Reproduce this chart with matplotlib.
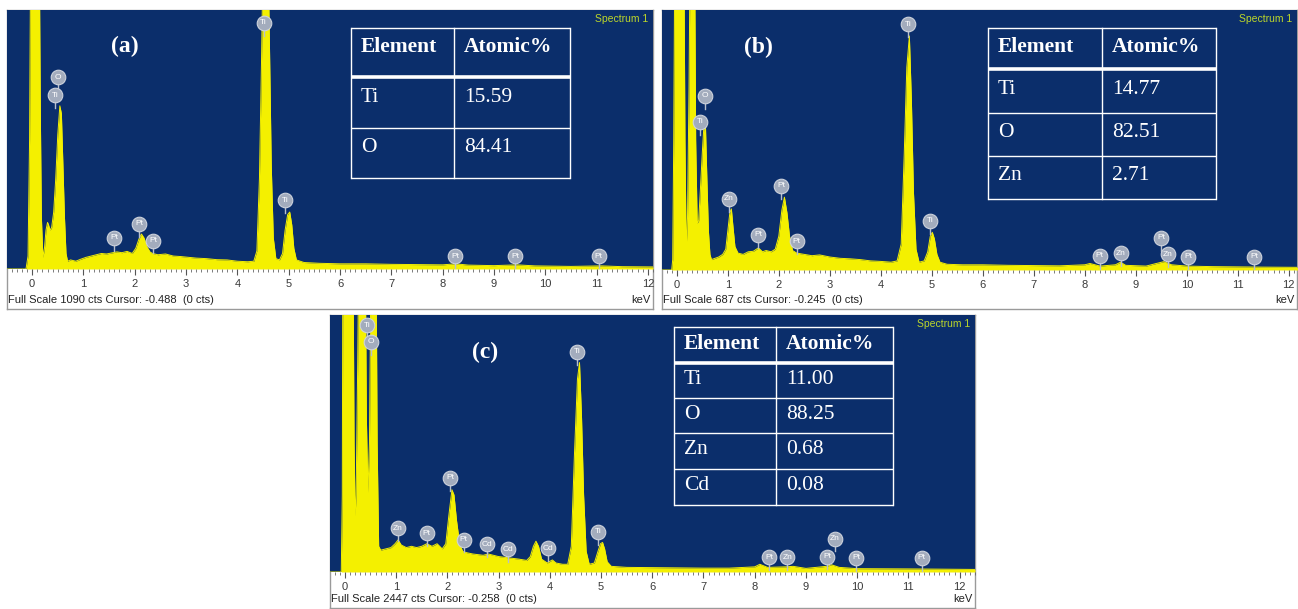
import numpy as np
import matplotlib.pyplot as plt
from matplotlib.lines import Line2D
from matplotlib.ticker import MultipleLocator

W, H = 1298, 609
BLUE = '#0b2e6b'
YELLOW = '#f4f000'
LBL_FACE = '#a3acbd'
SANS = 'Liberation Sans'
SERIF = 'Liberation Serif'

# ---- spectrum (a): energy (keV) and height as fraction of full scale ----
a_kev = [-0.49, -0.12, -0.08, -0.05, -0.03, 0.14, 0.16, 0.18, 0.21, 0.24, 0.27, 0.30,
         0.32, 0.35, 0.38, 0.42, 0.46, 0.50, 0.54, 0.57, 0.60, 0.63, 0.66, 0.69, 0.75,
         0.85, 0.95, 1.05, 1.15, 1.25, 1.35, 1.45, 1.55, 1.65, 1.75, 1.85, 1.95, 2.02,
         2.08, 2.13, 2.18, 2.24, 2.30, 2.35, 2.45, 2.60, 2.75, 2.90, 3.05, 3.20, 3.40,
         3.60, 3.80, 4.00, 4.20, 4.32, 4.38, 4.43, 4.47, 4.50, 4.60, 4.63, 4.66, 4.70,
         4.75, 4.82, 4.88, 4.93, 4.98, 5.02, 5.06, 5.10, 5.15, 5.30, 5.60, 6.00, 6.50,
         7.00, 7.50, 8.00, 8.25, 8.50, 9.00, 9.45, 9.80, 10.50, 11.10, 11.50, 12.10]
a_rel = [0, 0, 0.05, 0.5, 1.2, 1.2, 0.6, 0.2, 0.045, 0.08, 0.15, 0.18,
         0.17, 0.15, 0.16, 0.22, 0.35, 0.52, 0.63, 0.60, 0.40, 0.20, 0.06, 0.03, 0.035,
         0.03, 0.038, 0.045, 0.05, 0.055, 0.06, 0.058, 0.062, 0.066, 0.063, 0.068, 0.06, 0.08,
         0.115, 0.135, 0.12, 0.085, 0.065, 0.06, 0.055, 0.058, 0.05, 0.048, 0.045, 0.042, 0.04,
         0.036, 0.035, 0.03, 0.028, 0.03, 0.07, 0.35, 0.8, 1.2, 1.2, 0.8, 0.4, 0.12,
         0.04, 0.035, 0.06, 0.15, 0.21, 0.22, 0.17, 0.08, 0.035, 0.025, 0.022, 0.02, 0.02,
         0.018, 0.017, 0.016, 0.02, 0.015, 0.013, 0.016, 0.012, 0.01, 0.012, 0.009, 0.008]
a_lbl_el = ['O', 'Ti', 'Pt', 'Pt', 'Pt', 'Ti', 'Ti', 'Pt', 'Pt', 'Pt']
a_lbl_kev = [0.51, 0.45, 1.60, 2.09, 2.36, 4.51, 4.93, 8.25, 9.42, 11.04]
a_lbl_y = [0.74, 0.67, 0.12, 0.175, 0.11, 0.95, 0.265, 0.05, 0.05, 0.05]

# ---- spectrum (b) ----
b_kev = [-0.30, -0.10, -0.08, -0.06, -0.04, 0.14, 0.16, 0.18, 0.19, 0.21, 0.24, 0.26,
         0.35, 0.37, 0.40, 0.43, 0.46, 0.50, 0.53, 0.56, 0.59, 0.62, 0.65, 0.68, 0.75,
         0.82, 0.90, 0.96, 1.00, 1.04, 1.07, 1.10, 1.14, 1.20, 1.30, 1.40, 1.50, 1.60,
         1.68, 1.75, 1.85, 1.93, 2.00, 2.06, 2.11, 2.16, 2.21, 2.27, 2.35, 2.50, 2.65,
         2.80, 3.00, 3.20, 3.40, 3.60, 3.80, 4.00, 4.20, 4.32, 4.40, 4.46, 4.51, 4.56,
         4.60, 4.64, 4.69, 4.75, 4.85, 4.92, 4.97, 5.01, 5.05, 5.10, 5.16, 5.30, 5.60,
         6.00, 6.50, 7.00, 7.50, 8.00, 8.10, 8.30, 8.60, 8.70, 8.80, 9.20, 9.40, 9.55,
         9.70, 10.00, 10.50, 11.00, 11.50, 12.40]
b_rel = [0, 0, 0.04, 0.5, 1.2, 1.2, 0.5, 0.15, 0.11, 0.2, 0.7, 1.2,
         1.2, 0.5, 0.18, 0.19, 0.3, 0.45, 0.55, 0.57, 0.35, 0.15, 0.06, 0.04, 0.045,
         0.05, 0.06, 0.08, 0.15, 0.22, 0.235, 0.17, 0.09, 0.065, 0.06, 0.07, 0.072, 0.085,
         0.07, 0.075, 0.07, 0.08, 0.13, 0.23, 0.28, 0.22, 0.13, 0.075, 0.065, 0.06, 0.055,
         0.058, 0.05, 0.045, 0.043, 0.04, 0.035, 0.033, 0.03, 0.035, 0.1, 0.45, 0.78, 0.90,
         0.65, 0.3, 0.08, 0.03, 0.035, 0.07, 0.13, 0.145, 0.12, 0.06, 0.03, 0.022, 0.02,
         0.02, 0.018, 0.017, 0.016, 0.02, 0.025, 0.015, 0.02, 0.03, 0.018, 0.015, 0.025, 0.032,
         0.02, 0.015, 0.013, 0.012, 0.011, 0.01]
b_lbl_el = ['O', 'Ti', 'Zn', 'Pt', 'Pt', 'Pt', 'Ti', 'Ti', 'Pt', 'Zn', 'Pt', 'Zn', 'Pt', 'Pt']
b_lbl_kev = [0.55, 0.45, 1.02, 1.59, 2.05, 2.35, 4.54, 4.96, 8.29, 8.70, 9.50, 9.63, 10.03, 11.32]
b_lbl_y = [0.67, 0.57, 0.275, 0.135, 0.325, 0.11, 0.945, 0.19, 0.055, 0.065, 0.125, 0.06, 0.05, 0.05]

# ---- spectrum (c) ----
c_kev = [-0.29, -0.07, -0.05, -0.04, 0.16, 0.18, 0.20, 0.22, 0.25, 0.27, 0.40, 0.42,
         0.45, 0.48, 0.51, 0.61, 0.63, 0.66, 0.70, 0.80, 0.90, 0.98, 1.04, 1.10, 1.20,
         1.30, 1.40, 1.50, 1.60, 1.70, 1.80, 1.90, 1.97, 2.03, 2.09, 2.13, 2.18, 2.24,
         2.30, 2.38, 2.50, 2.70, 2.80, 3.00, 3.20, 3.40, 3.55, 3.62, 3.68, 3.73, 3.78,
         3.84, 3.95, 4.05, 4.12, 4.25, 4.35, 4.42, 4.48, 4.54, 4.58, 4.62, 4.66, 4.71,
         4.77, 4.87, 4.94, 4.99, 5.03, 5.07, 5.12, 5.20, 5.50, 6.00, 6.50, 7.00, 7.50,
         8.00, 8.10, 8.25, 8.60, 8.75, 9.00, 9.40, 9.50, 9.65, 10.00, 11.00, 12.30]
c_rel = [0, 0, 0.3, 1.2, 1.2, 0.5, 0.22, 0.3, 0.8, 1.2, 1.2, 0.6,
         0.31, 0.5, 1.2, 1.2, 0.5, 0.1, 0.085, 0.09, 0.095, 0.11, 0.125, 0.105, 0.095,
         0.1, 0.095, 0.1, 0.11, 0.1, 0.11, 0.09, 0.11, 0.22, 0.32, 0.3, 0.2, 0.11,
         0.08, 0.075, 0.07, 0.065, 0.07, 0.06, 0.055, 0.05, 0.045, 0.06, 0.1, 0.12, 0.1,
         0.05, 0.035, 0.047, 0.035, 0.03, 0.03, 0.1, 0.45, 0.75, 0.815, 0.6, 0.3, 0.08,
         0.03, 0.035, 0.08, 0.11, 0.115, 0.09, 0.04, 0.022, 0.018, 0.017, 0.016, 0.015, 0.015,
         0.02, 0.03, 0.018, 0.02, 0.022, 0.014, 0.022, 0.028, 0.018, 0.013, 0.012, 0.01]
c_lbl_el = ['Ti', 'O', 'Zn', 'Pt', 'Pt', 'Pt', 'Cd', 'Cd', 'Cd', 'Ti', 'Ti',
            'Pt', 'Zn', 'Pt', 'Zn', 'Pt', 'Pt']
c_lbl_kev = [0.44, 0.51, 1.04, 1.60, 2.06, 2.32, 2.78, 3.18, 3.97, 4.53, 4.95,
             8.28, 8.64, 9.41, 9.57, 9.98, 11.26]
c_lbl_y = [0.96, 0.895, 0.17, 0.15, 0.367, 0.126, 0.108, 0.088, 0.092, 0.857, 0.157,
           0.057, 0.057, 0.06, 0.13, 0.055, 0.055]

# ---- composition tables ----
a_elements = ['Ti', 'O']
a_atomic = ['15.59', '84.41']
b_elements = ['Ti', 'O', 'Zn']
b_atomic = ['14.77', '82.51', '2.71']
c_elements = ['Ti', 'O', 'Zn', 'Cd']
c_atomic = ['11.00', '88.25', '0.68', '0.08']


def fx(x):
    return x / W


def fy(y):
    return 1 - y / H


def px_rect(x0, y0, x1, y1):
    return [x0 / W, 1 - y1 / H, (x1 - x0) / W, (y1 - y0) / H]


fig = plt.figure(figsize=(W / 100, H / 100), dpi=100)
fig.patch.set_facecolor('white')


def spectrum_panel(frame_px, plot_px, xlim, kev, rel, lbl_el, lbl_kev, lbl_y,
                   letter, letter_px, full_scale, cursor):
    frame = fig.add_axes(px_rect(*frame_px))
    frame.set_facecolor('white')
    frame.set_xticks([])
    frame.set_yticks([])
    for sp in frame.spines.values():
        sp.set_color('#9a9a9a')
        sp.set_linewidth(1.0)

    ax = fig.add_axes(px_rect(*plot_px))
    ax.set_facecolor(BLUE)
    ax.fill_between(kev, 0, rel, color=YELLOW, lw=0)
    ax.plot(kev, rel, color=YELLOW, lw=0.7)
    ax.set_xlim(*xlim)
    ax.set_ylim(0, 1)
    ax.set_yticks([])
    ax.set_xticks(range(0, 13))
    ax.xaxis.set_minor_locator(MultipleLocator(0.1))
    ax.tick_params(axis='x', which='major', direction='out', length=4, width=0.8,
                   color='#555555', labelsize=8, labelcolor='#3a3a3a', pad=3)
    ax.tick_params(axis='x', which='minor', direction='out', length=2.5, width=0.6,
                   color='#666666')
    for lab in ax.get_xticklabels():
        lab.set_fontfamily(SANS)
    for sp in ax.spines.values():
        sp.set_visible(False)

    # peak labels
    for el, k, y in zip(lbl_el, lbl_kev, lbl_y):
        ax.plot([k, k], [y, y - 0.05], color='#b8bfcc', lw=1.0, zorder=4)
        ax.plot(k, y, 'o', ms=10.5, mfc=LBL_FACE, mec='#cdd2dc', mew=0.8, zorder=5)
        ax.text(k, y, el, ha='center', va='center', fontsize=6, color='white',
                family=SANS, zorder=6)

    ax.text(0.993, 0.985, 'Spectrum 1', transform=ax.transAxes, ha='right', va='top',
            fontsize=7.5, color='#bcd62a', family=SANS)
    fig.text(fx(letter_px[0]), fy(letter_px[1]), '(' + letter + ')', ha='center',
             va='center', fontsize=17, fontweight='bold', color='white', family=SERIF)

    x0, y0, x1, y1 = frame_px
    fig.text(fx(x0 + 1), fy(y1 - 9), 'Full Scale %d cts Cursor: %s  (0 cts)' % (full_scale, cursor),
             ha='left', va='center', fontsize=8, color='#222222', family=SANS)
    fig.text(fx(x1 - 3), fy(y1 - 9), 'keV', ha='right', va='center', fontsize=8,
             color='#222222', family=SANS)
    return ax


def draw_table(xs, ys, elements, atomic, text_dy):
    lw_thin, col = 1.0, 'white'
    for i, y in enumerate(ys):
        lw = 2.6 if i == 1 else lw_thin
        fig.add_artist(Line2D([fx(xs[0]), fx(xs[2])], [fy(y), fy(y)], color=col, lw=lw,
                              solid_capstyle='butt'))
    for x in xs:
        fig.add_artist(Line2D([fx(x), fx(x)], [fy(ys[0]), fy(ys[-1])], color=col, lw=lw_thin))
    rows = [('Element', 'Atomic%')] + list(zip(elements, atomic))
    for i, (c1, c2) in enumerate(rows):
        yc = (ys[i] + ys[i + 1]) / 2 - text_dy
        wt = 'bold' if i == 0 else 'normal'
        fig.text(fx(xs[0] + 10), fy(yc), c1, ha='left', va='center', fontsize=15.5,
                 fontweight=wt, color='white', family=SERIF)
        fig.text(fx(xs[1] + 10), fy(yc), c2, ha='left', va='center', fontsize=15.5,
                 fontweight=wt, color='white', family=SERIF)


spectrum_panel((7, 10, 653, 309), (7, 10, 653, 269), (-0.49, 12.10),
               a_kev, a_rel, a_lbl_el, a_lbl_kev, a_lbl_y, 'a', (125, 46), 1090, '-0.488')
spectrum_panel((662, 10, 1297, 309), (662, 10, 1297, 270), (-0.29, 12.16),
               b_kev, b_rel, b_lbl_el, b_lbl_kev, b_lbl_y, 'b', (758, 47), 687, '-0.245')
spectrum_panel((330, 315, 975, 608), (330, 315, 975, 572), (-0.29, 12.30),
               c_kev, c_rel, c_lbl_el, c_lbl_kev, c_lbl_y, 'c', (485, 352), 2447, '-0.258')

draw_table((351, 454, 570), (28, 77, 128, 178), a_elements, a_atomic, 5)
draw_table((988, 1102, 1216), (28, 69, 113, 156, 199), b_elements, b_atomic, 2)
draw_table((674, 776, 893), (327, 363, 398, 433, 469, 505), c_elements, c_atomic, 1)

fig.savefig('out.png', dpi=100, facecolor='white')
